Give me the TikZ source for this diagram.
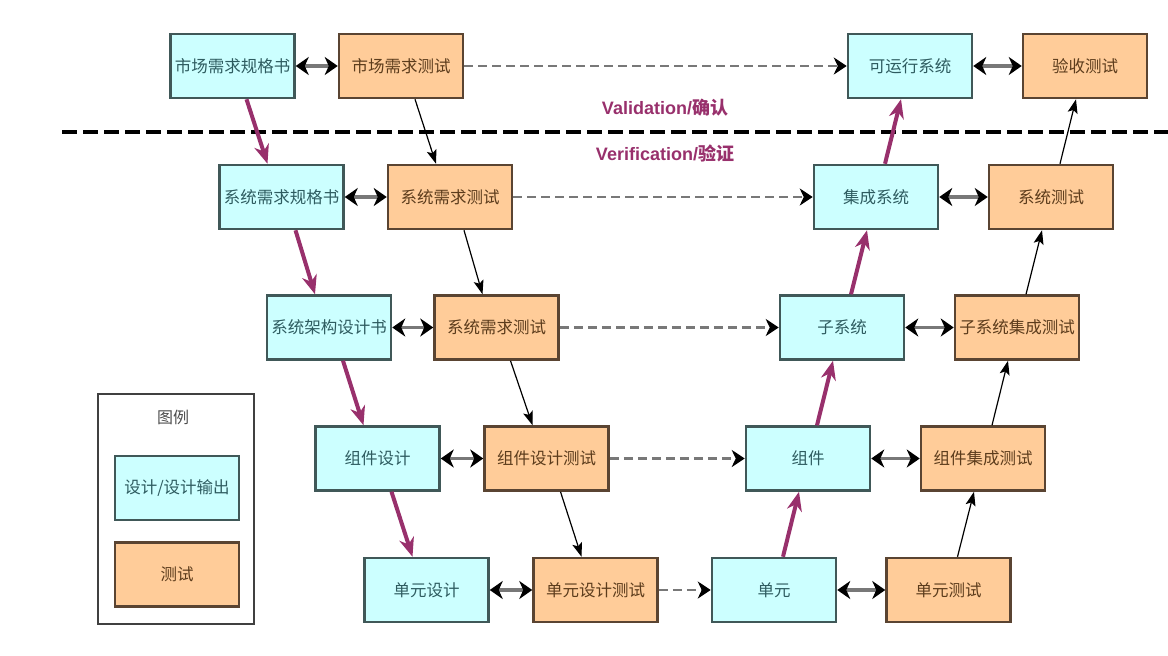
\documentclass[tikz,border=0pt]{standalone}
\usepackage{fontspec}
\setmainfont{Noto Sans CJK SC}
\newfontfamily\latinfont{Liberation Sans}
\usepackage{xcolor}
\usepackage{tikz}
\usetikzlibrary{arrows.meta}

\definecolor{designfill}{HTML}{CCFFFF}
\definecolor{designline}{HTML}{405858}
\definecolor{designtext}{HTML}{2E5C60}
\definecolor{testfill}{HTML}{FFCC99}
\definecolor{testline}{HTML}{5A4432}
\definecolor{testtext}{HTML}{5C3C1C}
\definecolor{vvpurple}{HTML}{98306C}
\definecolor{linkgray}{HTML}{787878}

\begin{document}
\begin{tikzpicture}[x=1pt, y=-1pt,
    designbox/.style={draw=designline, fill=designfill, line width=2.5pt, minimum width=124pt, minimum height=64pt, inner sep=0pt, text=designtext, font=\fontsize{16.5}{18}\selectfont},
    testbox/.style={designbox, draw=testline, fill=testfill, text=testtext},
    pair/.style={draw=linkgray, line width=3.5pt, {Stealth[length=13pt, width=18pt, inset=4pt, black]}-{Stealth[length=13pt, width=18pt, inset=4pt, black]}},
    across/.style={draw=linkgray, line width=2.5pt, dash pattern=on 9pt off 5pt, -{Stealth[length=13pt, width=17pt, inset=4pt, black]}},
    designflow/.style={draw=vvpurple, line width=4pt, -{Stealth[length=19pt, width=15pt, inset=6pt]}},
    testflow/.style={draw=black, line width=1.2pt, -{Stealth[length=14pt, width=10pt, inset=3pt]}},
    vvlabel/.style={text=vvpurple, font=\fontsize{18}{20}\selectfont\bfseries}]
    \useasboundingbox (0,0) rectangle (1168,656);
    % Validation / Verification divider:
    \draw[line width=3.5pt, dash pattern=on 15pt off 6pt] (62,132) -- (1168,132);
    \node[vvlabel] (valid) at (665,108) {{\latinfont Validation/}确认};
    \node[vvlabel] (verif) at (665,153) {{\latinfont Verification/}验证};
    % Left branch, design and test boxes:
    \node[designbox] (mrs) at (232.5,66) {市场需求规格书};
    \node[testbox] (mrt) at (401,66) {市场需求测试};
    \node[designbox] (srs) at (281.5,197) {系统需求规格书};
    \node[testbox] (srt) at (450,197) {系统需求测试};
    \node[designbox] (sad) at (329,327.5) {系统架构设计书};
    \node[testbox] (sat) at (496.5,327.5) {系统需求测试};
    \node[designbox] (cpd) at (377.5,458.5) {组件设计};
    \node[testbox] (cpt) at (546.5,458.5) {组件设计测试};
    \node[designbox] (und) at (426.5,590) {单元设计};
    \node[testbox] (unt) at (595.5,590) {单元设计测试};
    % Right branch, products and test boxes:
    \node[designbox] (runsys) at (910,66) {可运行系统};
    \node[testbox] (acct) at (1085,66) {验收测试};
    \node[designbox] (intsys) at (876,197) {集成系统};
    \node[testbox] (syst) at (1051,197) {系统测试};
    \node[designbox] (subsys) at (842,327.5) {子系统};
    \node[testbox] (subt) at (1017,327.5) {子系统集成测试};
    \node[designbox] (comp) at (808,458.5) {组件};
    \node[testbox] (compt) at (983,458.5) {组件集成测试};
    \node[designbox] (unit) at (774,590) {单元};
    \node[testbox] (unitt) at (948.5,590) {单元测试};
    % Legend:
    \node[draw=black!75, line width=2pt, minimum width=156pt, minimum height=230pt] (legend) at (176,509) {};
    \node[text=black!70, font=\fontsize{16}{18}\selectfont] (legtitle) at (173,417) {图例};
    \node[designbox] (legdesign) at (177,488) {设计/设计输出};
    \node[testbox] (legtest) at (177,574.5) {测试};
    % Links within each row:
    \draw[pair] (mrs) -- (mrt);
    \draw[pair] (srs) -- (srt);
    \draw[pair] (sad) -- (sat);
    \draw[pair] (cpd) -- (cpt);
    \draw[pair] (und) -- (unt);
    \draw[pair] (runsys) -- (acct);
    \draw[pair] (intsys) -- (syst);
    \draw[pair] (subsys) -- (subt);
    \draw[pair] (comp) -- (compt);
    \draw[pair] (unit) -- (unitt);
    \draw[across] (mrt) -- (runsys);
    \draw[across] (srt) -- (intsys);
    \draw[across] (sat) -- (subsys);
    \draw[across] (cpt) -- (comp);
    \draw[across] (unt) -- (unit);
    % Going down on the left:
    \draw[designflow] ([xshift=14pt]mrs.south) -- ([xshift=-14pt]srs.north);
    \draw[designflow] ([xshift=14pt]srs.south) -- ([xshift=-14pt]sad.north);
    \draw[designflow] ([xshift=14pt]sad.south) -- ([xshift=-14pt]cpd.north);
    \draw[designflow] ([xshift=14pt]cpd.south) -- ([xshift=-14pt]und.north);
    \draw[testflow] ([xshift=14pt]mrt.south) -- ([xshift=-14pt]srt.north);
    \draw[testflow] ([xshift=14pt]srt.south) -- ([xshift=-14pt]sat.north);
    \draw[testflow] ([xshift=14pt]sat.south) -- ([xshift=-14pt]cpt.north);
    \draw[testflow] ([xshift=14pt]cpt.south) -- ([xshift=-14pt]unt.north);
    % Going up on the right:
    \draw[designflow] ([xshift=9pt]unit.north) -- ([xshift=-9pt]comp.south);
    \draw[designflow] ([xshift=9pt]comp.north) -- ([xshift=-9pt]subsys.south);
    \draw[designflow] ([xshift=9pt]subsys.north) -- ([xshift=-9pt]intsys.south);
    \draw[designflow] ([xshift=9pt]intsys.north) -- ([xshift=-9pt]runsys.south);
    \draw[testflow] ([xshift=9pt]unitt.north) -- ([xshift=-9pt]compt.south);
    \draw[testflow] ([xshift=9pt]compt.north) -- ([xshift=-9pt]subt.south);
    \draw[testflow] ([xshift=9pt]subt.north) -- ([xshift=-9pt]syst.south);
    \draw[testflow] ([xshift=9pt]syst.north) -- ([xshift=-9pt]acct.south);
\end{tikzpicture}
\end{document}
